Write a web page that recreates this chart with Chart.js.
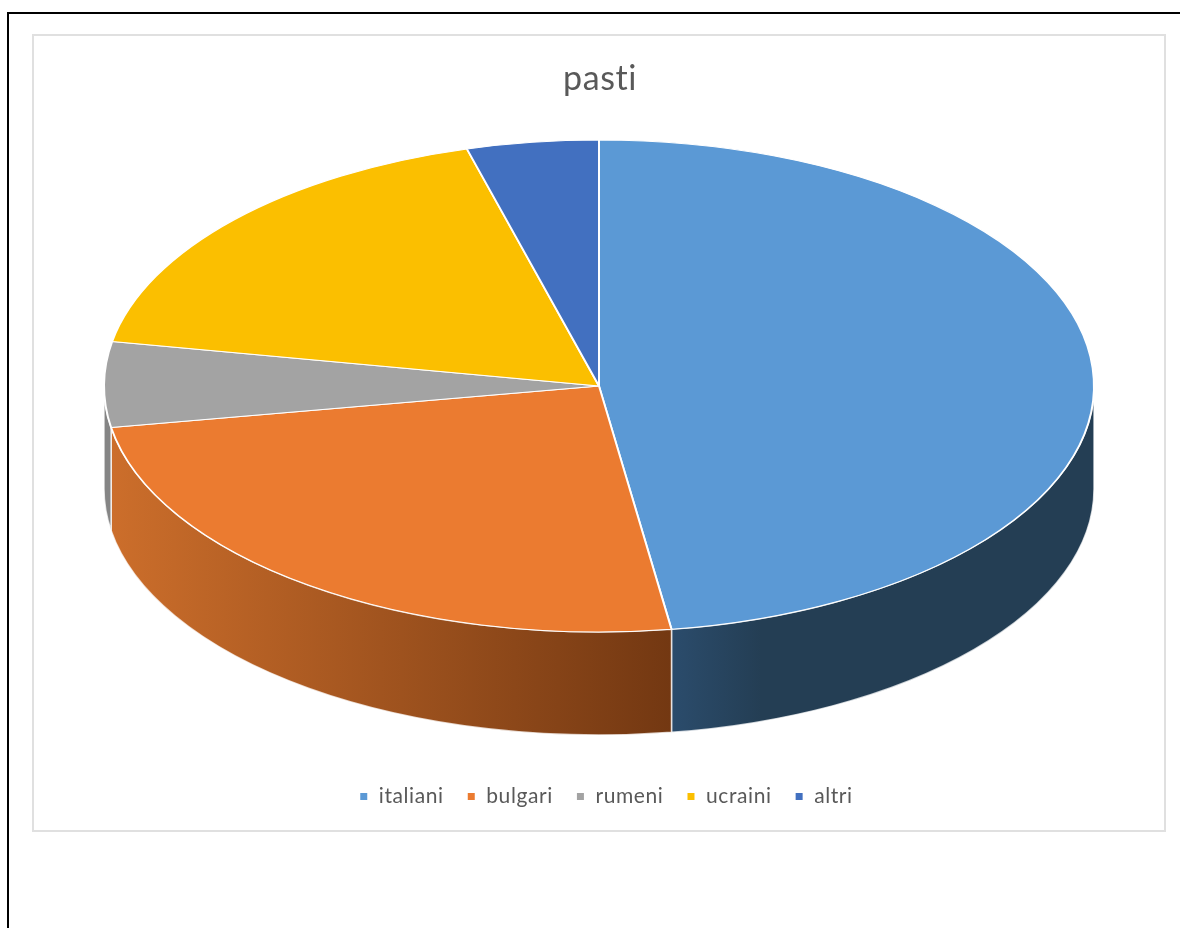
<!DOCTYPE html>
<html>
<head>
<meta charset="utf-8">
<title>pasti</title>
<style>
  html, body { margin: 0; padding: 0; background: #fff; }
  canvas { display: block; }
</style>
<script src="https://cdn.jsdelivr.net/npm/chart.js@4/dist/chart.umd.min.js"></script>
</head>
<body>
<canvas id="chart" width="1180" height="928"></canvas>
<script>
var labels = ["italiani", "bulgari", "rumeni", "ucraini", "altri"];
var values = [47.66, 24.64, 5.6, 17.8, 4.3];
var colors = ["#5b99d5", "#eb7b30", "#a3a3a3", "#fbbf00", "#4270c0"];
var wallColors = [
  ["#2b4c6c", "#243e54"],
  ["#cc6e2b", "#733812"],
  ["#858585", "#858585"],
  ["#997300", "#997300"],
  ["#2f5597", "#2f5597"]
];

// the pie is drawn as a tilted ellipse with a side wall below it
var centerX = 599;
var centerY = 386;
var radiusX = 496;
var tilt = 0.497;
var depth = 103;

var ctx = document.getElementById("chart").getContext("2d");

function drawWall(c, arc, i) {
  var start = Math.max(arc.startAngle, 0);
  var end = Math.min(arc.endAngle, Math.PI);
  if (end <= start) return;
  var rx = arc.outerRadius;
  var ry = rx * tilt;
  var x0 = centerX + rx * Math.cos(end);
  var x1 = centerX + rx * Math.cos(start);
  var grad = c.createLinearGradient(x0, 0, i === 0 ? x0 + 90 : x1, 0);
  grad.addColorStop(0, wallColors[i][0]);
  grad.addColorStop(1, wallColors[i][1]);
  c.beginPath();
  c.ellipse(centerX, centerY, rx, ry, 0, start, end);
  c.ellipse(centerX, centerY + depth, rx, ry, 0, end, start, true);
  c.closePath();
  c.fillStyle = grad;
  c.fill();
  c.strokeStyle = "rgba(255,255,255,0.75)";
  c.lineWidth = 1.5;
  c.stroke();
}

var pie3d = {
  id: "pie3d",
  beforeLayout: function (chart) {
    // canvas state is reset when chart.js sizes it, so set the spacing here
    chart.ctx.letterSpacing = "0.6px";
  },
  beforeDraw: function (chart) {
    var c = chart.ctx;
    c.save();
    c.strokeStyle = "#000";
    c.lineWidth = 2;
    c.beginPath();
    c.moveTo(1180, 13);
    c.lineTo(8, 13);
    c.lineTo(8, 928);
    c.stroke();
    c.strokeStyle = "#e0e0e0";
    c.strokeRect(33, 35, 1132, 796);
    c.restore();
  },
  afterLayout: function (chart) {
    // the circle is wider than the canvas is tall, so set the area by hand
    chart.chartArea = {
      left: centerX - radiusX,
      right: centerX + radiusX,
      top: centerY - radiusX,
      bottom: centerY + radiusX,
      width: radiusX * 2,
      height: radiusX * 2
    };
    // the legend sits a little right of the title
    chart.legend.left += 6;
    chart.legend.right += 6;
  },
  beforeDatasetsDraw: function (chart) {
    var c = chart.ctx;
    var arcs = chart.getDatasetMeta(0).data;
    c.save();
    arcs.forEach(function (arc, i) {
      drawWall(c, arc, i);
    });
    c.restore();
    c.save();
    c.translate(centerX, centerY);
    c.scale(1, tilt);
    c.translate(-centerX, -centerY);
  },
  afterDatasetsDraw: function (chart) {
    chart.ctx.restore();
  }
};

new Chart(ctx, {
  type: "pie",
  data: {
    labels: labels,
    datasets: [
      {
        data: values,
        backgroundColor: colors,
        borderColor: "#ffffff",
        borderWidth: 2
      }
    ]
  },
  options: {
    responsive: false,
    animation: false,
    layout: { padding: { left: 20, top: 59, bottom: 111 } },
    plugins: {
      tooltip: { enabled: false },
      title: {
        display: true,
        text: "pasti",
        color: "#595959",
        font: { family: "Lato", size: 34, weight: "normal" },
        padding: 0
      },
      legend: {
        position: "bottom",
        labels: {
          color: "#595959",
          font: { family: "Lato", size: 21 },
          usePointStyle: true,
          pointStyle: "rect",
          boxWidth: 9,
          boxHeight: 9,
          padding: 23
        }
      }
    }
  },
  plugins: [pie3d]
});
</script>
</body>
</html>
